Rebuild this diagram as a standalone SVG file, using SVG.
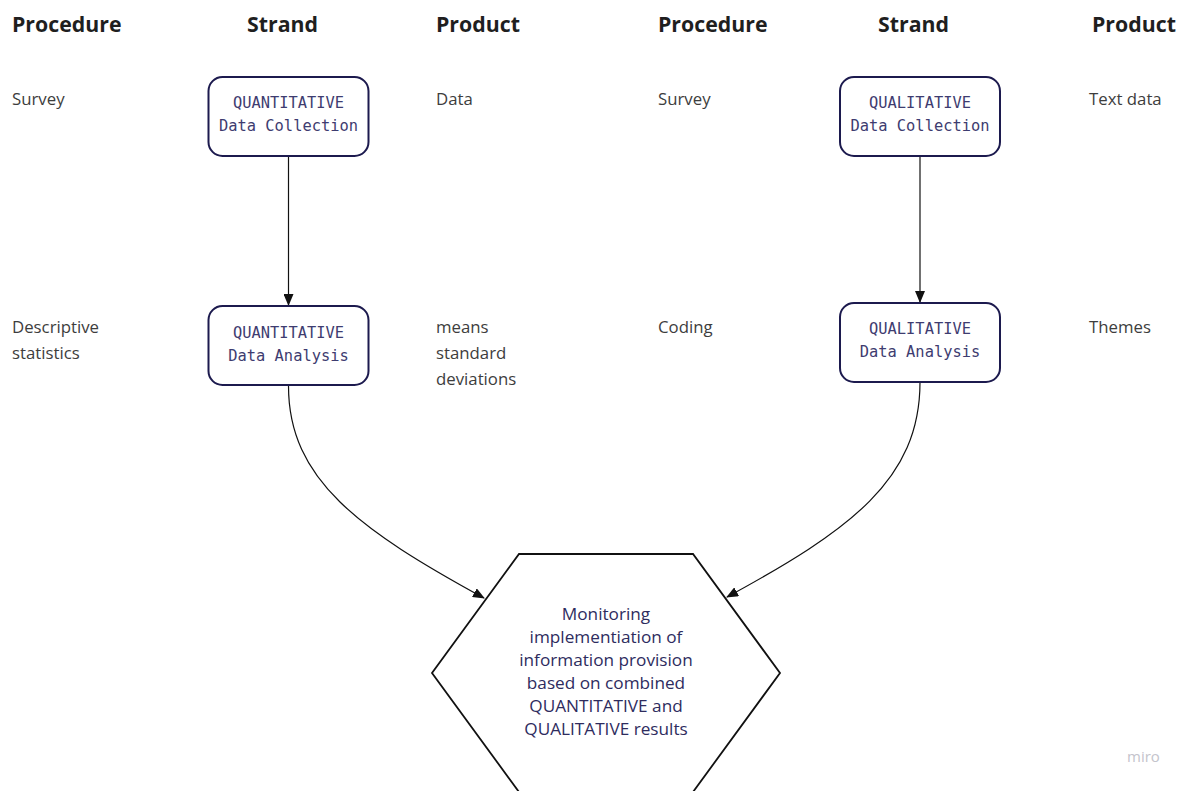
<svg xmlns="http://www.w3.org/2000/svg" width="1189" height="791" viewBox="0 0 1189 791">
<defs>
<style>
.hdr{font-family:"Open Sans","Liberation Sans",sans-serif;font-weight:bold;font-size:21.3px;fill:#1f1f1f}
.lbl{font-family:"Open Sans","Liberation Sans",sans-serif;font-size:16.8px;fill:#3d3d3d}
.box{fill:#ffffff;stroke:#1c1a4e;stroke-width:2}
.mono{font-family:"DejaVu Sans Mono","Liberation Mono",monospace;font-size:15.4px;fill:#3e3c70;text-anchor:middle}
.hex{fill:#ffffff;stroke:#111111;stroke-width:1.8}
.hext{font-family:"Open Sans","Liberation Sans",sans-serif;font-size:17.2px;fill:#2e2c5e;text-anchor:middle}
.conn{fill:none;stroke:#111111;stroke-width:1.2}
.miro{font-family:"Open Sans","Liberation Sans",sans-serif;font-size:15px;fill:#c4c4cc}
</style>
<marker id="arr" markerWidth="12" markerHeight="10" refX="11" refY="5" orient="auto" markerUnits="userSpaceOnUse">
<path d="M0,0 L12,5 L0,10 Z" fill="#111111"/>
</marker>
</defs>

<g id="headers">
<text class="hdr" x="12" y="32">Procedure</text>
<text class="hdr" x="247" y="32">Strand</text>
<text class="hdr" x="436" y="32">Product</text>
<text class="hdr" x="658" y="32">Procedure</text>
<text class="hdr" x="878" y="32">Strand</text>
<text class="hdr" x="1092" y="32">Product</text>
</g>

<g id="labels">
<text class="lbl" x="12" y="105">Survey</text>
<text class="lbl" x="436" y="105">Data</text>
<text class="lbl" x="658" y="105">Survey</text>
<text class="lbl" x="1089" y="105">Text data</text>
<text class="lbl" x="12" y="333">Descriptive</text>
<text class="lbl" x="12" y="359">statistics</text>
<text class="lbl" x="436" y="333">means</text>
<text class="lbl" x="436" y="359">standard</text>
<text class="lbl" x="436" y="385">deviations</text>
<text class="lbl" x="658" y="333">Coding</text>
<text class="lbl" x="1089" y="333">Themes</text>
</g>

<g id="connectors">
<path class="conn" d="M288.5,157 L288.5,305" marker-end="url(#arr)"/>
<path class="conn" d="M920,157 L920,302" marker-end="url(#arr)"/>
<path class="conn" d="M288.5,386 C288.5,480 360,530 484,598" marker-end="url(#arr)"/>
<path class="conn" d="M920,382 C920,480 850,530 727,597" marker-end="url(#arr)"/>
</g>

<g id="quant-collection">
<rect class="box" x="208.5" y="77" width="160" height="79" rx="14"/>
<text class="mono" x="288.5" y="108">QUANTITATIVE</text>
<text class="mono" x="288.5" y="131">Data Collection</text>
</g>

<g id="quant-analysis">
<rect class="box" x="208.5" y="306" width="160" height="79" rx="14"/>
<text class="mono" x="288.5" y="338">QUANTITATIVE</text>
<text class="mono" x="288.5" y="361">Data Analysis</text>
</g>

<g id="qual-collection">
<rect class="box" x="840" y="77" width="160" height="79" rx="14"/>
<text class="mono" x="920" y="108">QUALITATIVE</text>
<text class="mono" x="920" y="131">Data Collection</text>
</g>

<g id="qual-analysis">
<rect class="box" x="840" y="303" width="160" height="79" rx="14"/>
<text class="mono" x="920" y="334">QUALITATIVE</text>
<text class="mono" x="920" y="357">Data Analysis</text>
</g>

<g id="monitoring">
<polygon class="hex" points="519,554 693,554 780,673 693,792 519,792 432,673"/>
<text class="hext" x="606" y="620">Monitoring</text>
<text class="hext" x="606" y="643">implementiation of</text>
<text class="hext" x="606" y="666">information provision</text>
<text class="hext" x="606" y="689">based on combined</text>
<text class="hext" x="606" y="712">QUANTITATIVE and</text>
<text class="hext" x="606" y="735">QUALITATIVE results</text>
</g>

<text class="miro" x="1127" y="762">miro</text>
</svg>
